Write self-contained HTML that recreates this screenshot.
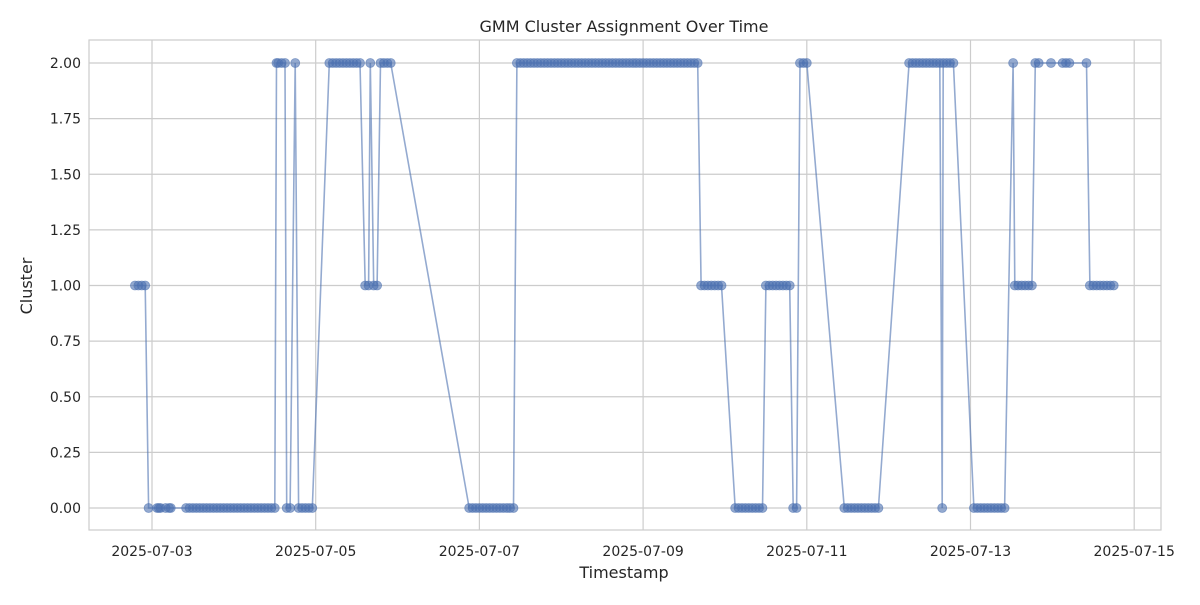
<!DOCTYPE html>
<html><head><meta charset="utf-8"><style>
body{margin:0;background:#fff}
svg text{font-family:"DejaVu Sans","Liberation Sans",sans-serif;fill:#262626}
</style></head><body>
<svg id="c" width="1200" height="600" xmlns="http://www.w3.org/2000/svg">
<rect x="0" y="0" width="1200" height="600" fill="#fff"/>
<text x="624" y="32" text-anchor="middle" font-size="16">GMM Cluster Assignment Over Time</text>
<text x="624" y="578" text-anchor="middle" font-size="16">Timestamp</text>
<text x="32" y="286" text-anchor="middle" font-size="16" transform="rotate(-90 32 286)">Cluster</text>
<g id="grid"></g><g id="marks"></g>
<rect x="89" y="40" width="1072" height="490" fill="none" stroke="#cccccc" stroke-width="1.2"/>
</svg>
<script>
// hours since 2025-07-03 00:00
const times=[-5,-4,-3,-2,
-1,1.5,2,2.5,4,5,5.5,10,11,12,13,14,15,16,17,18,19,20,21,22,23,24,25,26,27,28,29,30,31,32,33,34,35,36,
36.5,37,38,39,
39.5,40.5,
42,
43,44,45,46,47,
52,53,54,55,56,57,58,59,60,61,
62.5,63.5,
64,
65,66,
67,68,69,70,
93,94,95,96,97,98,99,100,101,102,103,104,105,106,
107,108,109,110,111,112,113,114,115,116,117,118,119,120,121,122,123,124,125,126,127,128,129,130,131,132,133,134,135,136,137,138,139,140,141,142,143,144,145,146,147,148,149,150,151,152,153,154,155,156,157,158,159,160,
161,162,163,164,165,166,167,
171,172,173,174,175,176,177,178,179,
180,181,182,183,184,185,186,187,
188,189,
190,191,192,
203,204,205,206,207,208,209,210,211,212,213,
222,223,224,225,226,227,228,229,230,231,
231.7,
232,233,234,235,
241,242,243,244,245,246,247,248,249,250,
252.5,
253,254,255,256,257,258,
259,260,263.6,267,268,269,274,
275,276,277,278,279,280,281,282];
const clusters=[1,1,1,1,
0,0,0,0,0,0,0,0,0,0,0,0,0,0,0,0,0,0,0,0,0,0,0,0,0,0,0,0,0,0,0,0,0,0,
2,2,2,2,
0,0,
2,
0,0,0,0,0,
2,2,2,2,2,2,2,2,2,2,
1,1,
2,
1,1,
2,2,2,2,
0,0,0,0,0,0,0,0,0,0,0,0,0,0,
2,2,2,2,2,2,2,2,2,2,2,2,2,2,2,2,2,2,2,2,2,2,2,2,2,2,2,2,2,2,2,2,2,2,2,2,2,2,2,2,2,2,2,2,2,2,2,2,2,2,2,2,2,2,
1,1,1,1,1,1,1,
0,0,0,0,0,0,0,0,0,
1,1,1,1,1,1,1,1,
0,0,
2,2,2,
0,0,0,0,0,0,0,0,0,0,0,
2,2,2,2,2,2,2,2,2,2,
0,
2,2,2,2,
0,0,0,0,0,0,0,0,0,0,
2,
1,1,1,1,1,1,
2,2,2,2,2,2,2,
1,1,1,1,1,1,1,1];
const yTicks=[0,0.25,0.5,0.75,1,1.25,1.5,1.75,2];
const xTickHours=[0,48,96,144,192,240,288];
const xTickLabels=['2025-07-03','2025-07-05','2025-07-07','2025-07-09','2025-07-11','2025-07-13','2025-07-15'];

const NS='http://www.w3.org/2000/svg';
const xS=h=>152+h*81.85/24;
const yS=v=>508-v*222.5;
const grid=document.getElementById('grid'),marks=document.getElementById('marks');
function mk(tag,attrs,parent){const e=document.createElementNS(NS,tag);for(const k in attrs)e.setAttribute(k,attrs[k]);parent.appendChild(e);return e;}
yTicks.forEach(v=>{
  const l=mk('line',{x1:89,x2:1161,y1:yS(v),y2:yS(v),stroke:'#cccccc','stroke-width':1.2},grid);
  
  
  const t=mk('text',{x:81,y:yS(v)+5,'text-anchor':'end','font-size':14},grid);
  t.textContent=v.toFixed(2);
  
  
});
xTickHours.forEach((h,i)=>{
  const l=mk('line',{x1:xS(h),x2:xS(h),y1:40,y2:530,stroke:'#cccccc','stroke-width':1.2},grid);
  
  
  const t=mk('text',{x:xS(h),y:556,'text-anchor':'middle','font-size':14},grid);
  t.textContent=xTickLabels[i];
  
  
});
const pts=times.map((h,i)=>xS(h).toFixed(1)+','+yS(clusters[i]).toFixed(1)).join(' ');
const pl=mk('polyline',{points:pts,fill:'none',stroke:'#4c72b0','stroke-width':1.6,'stroke-opacity':0.6},marks);


times.forEach((h,i)=>{
  const c=mk('circle',{cx:xS(h),cy:yS(clusters[i]),r:4.5,fill:'#4c72b0','fill-opacity':0.6,stroke:'#4c72b0','stroke-opacity':0.6,'stroke-width':0.8},marks);
  
  
});
</script>
</body></html>
